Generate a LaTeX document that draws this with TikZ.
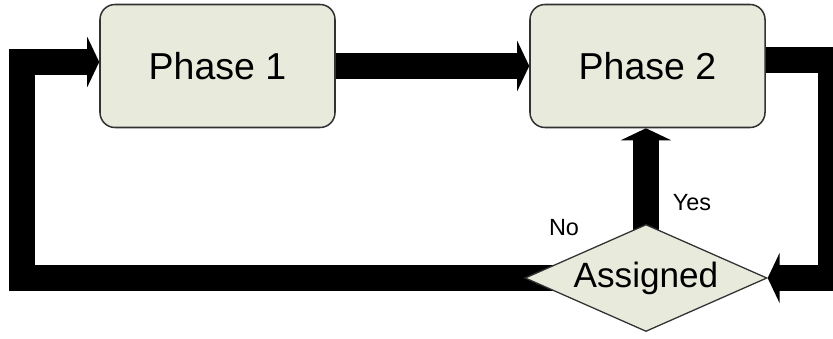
\documentclass[tikz,border=0pt]{standalone}
\usepackage{fontspec}
\setmainfont{Liberation Sans}
\usetikzlibrary{arrows.meta,calc,positioning,shapes.geometric,backgrounds}
\definecolor{boxfill}{RGB}{232,235,220}
\definecolor{boxline}{RGB}{50,50,50}
\tikzset{
	phase/.style={draw=boxline,line width=1.3pt,fill=boxfill,rounded corners=0.45cm,minimum width=7.05cm,minimum height=3.69cm,font=\fontsize{32}{38}\selectfont},
	decision/.style={diamond,draw=boxline,line width=1.1pt,fill=boxfill,aspect=2.26,minimum width=7.26cm,minimum height=3.21cm,inner sep=0pt,font=\fontsize{30}{36}\selectfont},
	flow/.style={line width=0.78cm,line join=miter,line cap=butt},
	flowarrow/.style={flow,-{Triangle[length=0.36cm,width=1.5cm]}},
	answer/.style={font=\fontsize{20}{24}\selectfont}
}
\begin{document}
\begin{tikzpicture}[x=0.03cm,y=-0.03cm]
				\useasboundingbox (0,0) rectangle (833,339);
				\node[phase] (phase1) at (217.5,66) {Phase 1};
				\node[phase] (phase2) at (647.5,66) {Phase 2};
				\node[decision] (assigned) at (646,278) {Assigned};
				\node[answer] (yes) at (692,203) {Yes};
				\node[answer] (no) at (564,228) {No};
				\coordinate (leftbottom) at (22,278);
				\coordinate (rightbottom) at (831,278);
				\begin{scope}[on background layer]
				\draw[flowarrow] (assigned.center) -- (leftbottom) |- ([yshift=0.12cm]phase1.west);
				\draw[flowarrow] (phase1.east) to (phase2.west);
				\draw[flowarrow] ([yshift=0.18cm]phase2.east) -| (rightbottom) -- (assigned.east);
				\draw[flowarrow] (assigned.center) to (assigned.center |- phase2.south);
				\end{scope}
	\end{tikzpicture}
\end{document}
